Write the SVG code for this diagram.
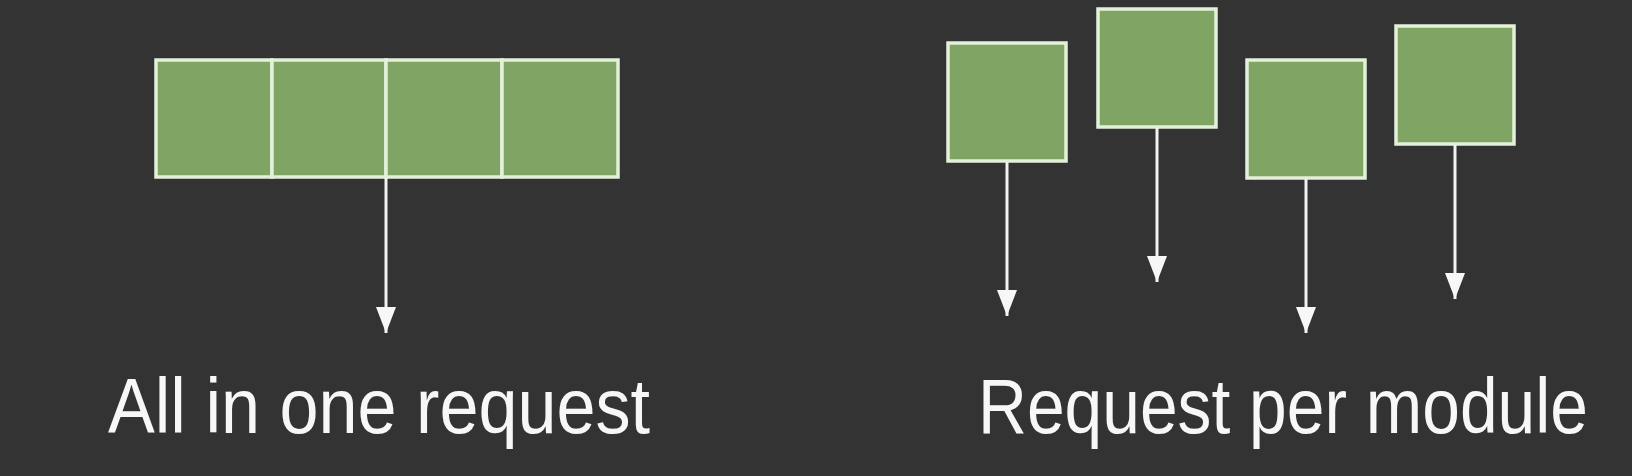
<svg xmlns="http://www.w3.org/2000/svg" width="1632" height="476" viewBox="0 0 1632 476">
  <style>
    .cell { fill: #80a463; stroke: #e4f1da; stroke-width: 3.5; }
    .conn { stroke: #f2f2f2; stroke-width: 3; fill: none; }
    .label { fill: #f7f7f7; font-family: "Liberation Sans", sans-serif; font-size: 78px; }
  </style>
  <defs>
    <marker id="arrow" markerUnits="userSpaceOnUse" markerWidth="28" markerHeight="22" viewBox="0 -11 28 22" refX="26" refY="0" orient="auto">
      <path d="M0,-10 L26,0 L0,10 z" fill="#f7f7f7"/>
    </marker>
  </defs>
  <rect x="0" y="0" width="1632" height="476" fill="#333333"/>

  <g id="bundle">
    <rect class="cell" x="156" y="60" width="116" height="117"/>
    <rect class="cell" x="272" y="60" width="114" height="117"/>
    <rect class="cell" x="386" y="60" width="116" height="117"/>
    <rect class="cell" x="502" y="60" width="116" height="117"/>
  </g>
  <g id="module1"><rect class="cell" x="948" y="43" width="118" height="118"/></g>
  <g id="module2"><rect class="cell" x="1098" y="9" width="118" height="118"/></g>
  <g id="module3"><rect class="cell" x="1247" y="60" width="118" height="118"/></g>
  <g id="module4"><rect class="cell" x="1396" y="26" width="118" height="118"/></g>

  <g id="connectors">
    <line class="conn" x1="386" y1="178" x2="386" y2="333" marker-end="url(#arrow)"/>
    <line class="conn" x1="1007" y1="162" x2="1007" y2="316" marker-end="url(#arrow)"/>
    <line class="conn" x1="1157" y1="128" x2="1157" y2="282" marker-end="url(#arrow)"/>
    <line class="conn" x1="1306" y1="179" x2="1306" y2="333" marker-end="url(#arrow)"/>
    <line class="conn" x1="1455" y1="145" x2="1455" y2="299" marker-end="url(#arrow)"/>
  </g>

  <g id="labels">
    <text class="label" x="108" y="433" textLength="542" lengthAdjust="spacingAndGlyphs">All in one request</text>
    <text class="label" x="978" y="433" textLength="610" lengthAdjust="spacingAndGlyphs">Request per module</text>
  </g>
</svg>
